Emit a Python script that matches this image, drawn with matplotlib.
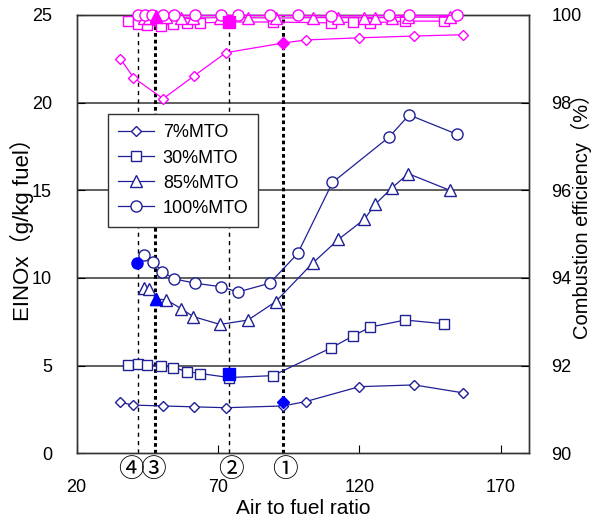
import matplotlib
matplotlib.use('Agg')
import matplotlib.pyplot as plt

plt.rcParams['font.family'] = ['Liberation Sans', 'Noto Sans CJK JP', 'DejaVu Sans']

# data
afr_7 = [35.5, 40.1, 50.6, 61.5, 72.8, 93.0, 101.0, 120.0, 139.4, 156.6]
einox_7 = [2.9, 2.75, 2.7, 2.65, 2.6, 2.7, 2.95, 3.8, 3.9, 3.45]
eff_7 = [99.0, 98.57, 98.09, 98.61, 99.14, 99.36, 99.43, 99.48, 99.52, 99.55]

afr_30 = [38.0, 41.8, 45.0, 49.9, 54.2, 59.1, 63.7, 74.0, 89.4, 110.1, 117.9, 123.9, 136.2, 149.9]
einox_30 = [5.06, 5.11, 5.06, 5.0, 4.89, 4.66, 4.55, 4.32, 4.43, 6.02, 6.7, 7.2, 7.6, 7.39]
eff_30 = [99.86, 99.8, 99.77, 99.75, 99.8, 99.82, 99.82, 99.84, 99.84, 99.82, 99.84, 99.82, 99.86, 99.86]

afr_85 = [43.9, 45.7, 48.2, 51.7, 57.0, 61.2, 70.7, 80.6, 90.4, 103.5, 112.6, 121.8, 125.6, 131.6, 137.3, 152.0]
einox_85 = [9.45, 9.35, 8.8, 8.75, 8.25, 7.8, 7.35, 7.6, 8.65, 10.85, 12.2, 13.35, 14.2, 15.15, 15.95, 15.0]
eff_85 = [99.94, 99.94, 99.96, 99.95, 99.94, 99.93, 99.94, 99.94, 99.93, 99.94, 99.94, 99.94, 99.94, 99.94, 99.95, 99.95]

afr_100 = [43.9, 47.1, 50.3, 54.5, 61.9, 71.1, 77.0, 88.3, 98.2, 110.5, 130.6, 137.6, 154.5]
einox_100 = [11.3, 10.9, 10.35, 9.95, 9.7, 9.5, 9.2, 9.7, 11.4, 15.45, 18.05, 19.3, 18.2]
afr_100e = [41.8, 44.3, 46.8, 50.6, 54.5, 61.9, 71.1, 77.0, 88.3, 98.2, 110.1, 130.6, 137.6, 154.5]
eff_100 = [99.99, 100.0, 100.0, 99.99, 99.99, 99.99, 99.99, 99.99, 99.99, 99.99, 99.98, 99.99, 99.99, 99.99]

# operating points 1-4 (filled markers)
op_labels = ['①', '②', '③', '④']
op_afr = [93.0, 74.0, 47.7, 41.8]
op_label_x = [93.7, 74.6, 47.0, 39.3]
op_einox = [2.95, 4.55, 8.8, 10.85]
op_eff_afr = [93.0, 74.0, 48.2]
op_eff = [99.36, 99.84, 99.97]

NAVY = '#1f1f96'
BLUE = '#0000ff'
MAG = '#ff00ff'

fig = plt.figure(figsize=(5.93, 5.19), dpi=100)
ax = fig.add_axes([0.1293, 0.1266, 0.7627, 0.8445])
ax2 = ax.twinx()

# vertical lines for conditions
for x, lx, lab in zip(op_afr, op_label_x, op_labels):
    if lab in ('①', '③'):
        ax.axvline(x, color='black', lw=2.2, ls=(0, (1.2, 1.0)), zorder=1)
    else:
        ax.axvline(x, color='black', lw=1.0, ls=(0, (3, 3)), zorder=1)
    ax.text(lx, -0.039, lab, transform=ax.get_xaxis_transform(), ha='center', va='center',
            fontsize=18.5, family=['Noto Sans CJK JP', 'DejaVu Sans'])

for yv in [5, 10, 15, 20]:
    ax.axhline(yv, color='#444444', lw=1.2, zorder=0.5)

kw = dict(color=NAVY, lw=0.9, mfc='white', mec=NAVY, mew=1.0, zorder=3)
ax.plot(afr_7, einox_7, marker='D', ms=5.5, label='7%MTO', **kw)
ax.plot(afr_30, einox_30, marker='s', ms=7.5, label='30%MTO', **kw)
ax.plot(afr_85, einox_85, marker='^', ms=8, label='85%MTO', **kw)
ax.plot(afr_100, einox_100, marker='o', ms=8, label='100%MTO', **kw)

ax.plot(op_afr[0], op_einox[0], marker='D', ms=6, color=BLUE, ls='none', zorder=4)
ax.plot(op_afr[1], op_einox[1], marker='s', ms=8, color=BLUE, ls='none', zorder=4)
ax.plot(48.2, op_einox[2], marker='^', ms=9, color=BLUE, ls='none', zorder=4)
ax.plot(41.5, op_einox[3], marker='o', ms=8, color=BLUE, ls='none', zorder=4)

mk = dict(color=MAG, lw=0.9, mfc='white', mec=MAG, mew=1.0, zorder=3, clip_on=False)
ax2.plot(afr_7, eff_7, marker='D', ms=5.5, **mk)
ax2.plot(afr_30, eff_30, marker='s', ms=7.5, **mk)
ax2.plot(afr_85, eff_85, marker='^', ms=8, **mk)
ax2.plot(afr_100e, eff_100, marker='o', ms=8, **mk)
ax2.plot(op_eff_afr[0], op_eff[0], marker='D', ms=6, color=MAG, ls='none', zorder=4)
ax2.plot(op_eff_afr[1], op_eff[1], marker='s', ms=9, color=MAG, ls='none', zorder=4)
ax2.plot(op_eff_afr[2], op_eff[2], marker='^', ms=9, color=MAG, ls='none', zorder=4, clip_on=False)

ax.set_xlim(20, 180)
ax.set_ylim(0, 25)
ax2.set_ylim(90, 100)
ax.set_xticks([20, 70, 120, 170])
ax.set_yticks([0, 5, 10, 15, 20, 25])
ax2.set_yticks([90, 92, 94, 96, 98, 100])

ax.tick_params(axis='x', direction='in', length=6, pad=18.5, labelsize=13, top=False)
ax.tick_params(axis='y', direction='in', length=6, pad=17.8, labelsize=13)
ax2.tick_params(axis='y', direction='in', length=6, pad=16, labelsize=13)

ax.set_xlabel('Air to fuel ratio', fontsize=15)
ax.set_ylabel('EINOx（g/kg fuel）', fontsize=16, va='center')
ax2.set_ylabel('Combustion efficiency（%）', fontsize=14.5, va='center')
ax.xaxis.set_label_coords(0.5, -0.125)
ax.xaxis.label.set_va('center')
ax.yaxis.set_label_coords(-0.122, 0.523)
ax2.yaxis.set_label_coords(1.115, 0.552)

for a in (ax, ax2):
    for s in a.spines.values():
        s.set_color('#333333')
        s.set_linewidth(1.0)

leg = ax.legend(loc='upper left', bbox_to_anchor=(0.0686, 0.773), borderaxespad=0, fontsize=13,
                frameon=True, fancybox=False, edgecolor='#333333', framealpha=1, borderpad=0.55,
                handlelength=2.0, labelspacing=0.45, handletextpad=0.5)
leg.get_frame().set_linewidth(1.0)
leg.set_zorder(10)

fig.savefig('out.png', dpi=100)
